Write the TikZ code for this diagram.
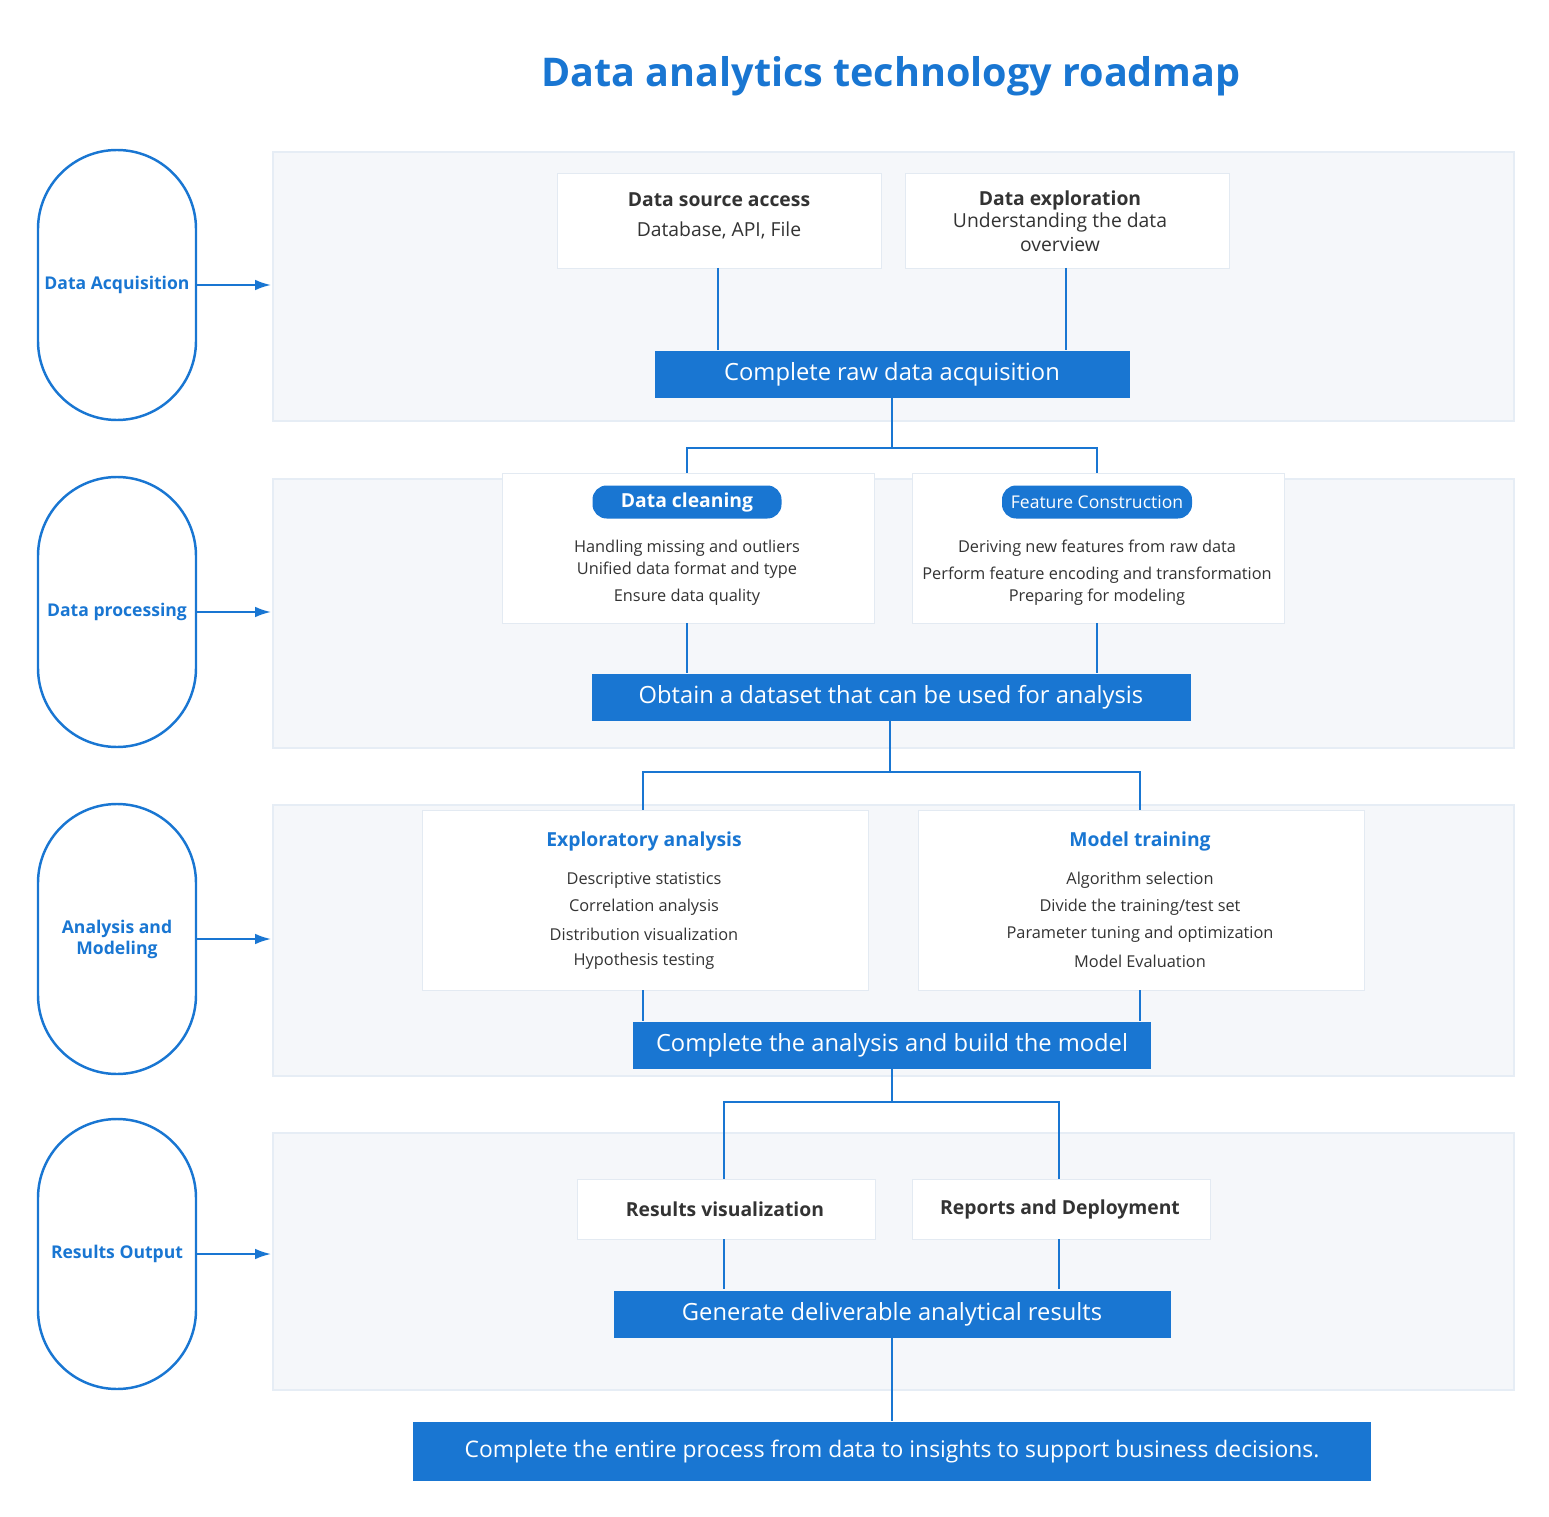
\documentclass[tikz,border=0pt]{standalone}
\usepackage{fontspec}
\setmainfont{Open Sans}
\usetikzlibrary{arrows.meta,positioning}
\definecolor{mainblue}{HTML}{1976D2}
\definecolor{lanefill}{HTML}{F5F7FA}
\definecolor{laneline}{HTML}{E6EDF5}
\definecolor{boxline}{HTML}{E3EAF2}
\definecolor{txt}{HTML}{333333}
\tikzset{
  lane/.style={fill=lanefill, draw=laneline, line width=0.6pt},
  stage/.style={draw=mainblue, line width=1.4pt, rounded corners=0.79*2cm, text=mainblue, font=\fontsize{10}{12}\selectfont\bfseries, align=center},
  card/.style={fill=white, draw=boxline, line width=0.6pt, text=txt, align=center, anchor=north west},
  bar/.style={fill=mainblue, text=white, font=\fontsize{13.5}{16}\selectfont},
  tag/.style={fill=mainblue, text=white, rounded corners=8pt, inner sep=0pt},
  link/.style={draw=mainblue, line width=1.1pt},
  feed/.style={draw=mainblue, line width=1.1pt, -{Latex[length=9pt,width=6pt]}},
  small/.style={font=\fontsize{9.3}{11}\selectfont, text=txt},
  head/.style={font=\fontsize{11}{13}\selectfont\bfseries, text=txt}
}
\begin{document}
\begin{tikzpicture}[x=0.02cm,y=-0.02cm]
\useasboundingbox (0,0) rectangle (1549,1517);

%Title
\node (title) at (891,76) [text=mainblue, font=\fontsize{22.5}{26}\selectfont\bfseries]{Data analytics technology roadmap};

%Lanes
\draw[lane] (273,152) rectangle (1514,421);
\draw[lane] (273,479) rectangle (1514,748);
\draw[lane] (273,805) rectangle (1514,1076);
\draw[lane] (273,1133) rectangle (1514,1390);

%Stages
\node (acq) at (117,285) [stage, minimum width=158*0.02cm, minimum height=270*0.02cm]{Data Acquisition};
\node (proc) at (117,612) [stage, minimum width=158*0.02cm, minimum height=270*0.02cm]{Data processing};
\node (anal) at (117,939) [stage, minimum width=158*0.02cm, minimum height=270*0.02cm]{Analysis and\\Modeling};
\node (outp) at (117,1254) [stage, minimum width=158*0.02cm, minimum height=270*0.02cm]{Results Output};
\coordinate (acqT) at (271,285);
\coordinate (procT) at (271,612);
\coordinate (analT) at (271,939);
\coordinate (outpT) at (271,1254);
\draw[feed] (acq.east) -- (acqT);
\draw[feed] (proc.east) -- (procT);
\draw[feed] (anal.east) -- (analT);
\draw[feed] (outp.east) -- (outpT);

%Lane 1
\node (source) at (557,173) [card, minimum width=324*0.02cm, minimum height=95*0.02cm]{};
\node at (719,200) [head]{Data source access};
\node at (719,230) [font=\fontsize{11}{13}\selectfont, text=txt]{Database, API, File};
\node (explore) at (905,173) [card, minimum width=324*0.02cm, minimum height=95*0.02cm]{};
\node at (1060,200) [head]{Data exploration};
\node at (1060,232) [font=\fontsize{11}{13.5}\selectfont, text=txt, align=center]{Understanding the data\\overview};
\node (raw) at (892,374) [bar, minimum width=475*0.02cm, minimum height=47*0.02cm]{Complete raw data acquisition};
\draw[link] (718,268) -- ++(0,82);
\draw[link] (1066,268) -- ++(0,82);

%Lane 2
\node (clean) at (502,473) [card, minimum width=372*0.02cm, minimum height=150*0.02cm]{};
\node (cleantag) at (687,502) [tag, minimum width=189*0.02cm, minimum height=33*0.02cm, font=\fontsize{11}{13}\selectfont\bfseries]{Data cleaning};
\node at (687,548) [small]{Handling missing and outliers};
\node at (687,570) [small]{Unified data format and type};
\node at (687,597) [small]{Ensure data quality};
\node (feat) at (912,473) [card, minimum width=372*0.02cm, minimum height=150*0.02cm]{};
\node (feattag) at (1097,502) [tag, minimum width=190*0.02cm, minimum height=33*0.02cm, font=\fontsize{10}{12}\selectfont]{Feature Construction};
\node at (1097,548) [small]{Deriving new features from raw data};
\node at (1097,575) [small]{Perform feature encoding and transformation};
\node at (1097,597) [small]{Preparing for modeling};
\node (dataset) at (891,697) [bar, minimum width=599*0.02cm, minimum height=47*0.02cm]{Obtain a dataset that can be used for analysis};
\draw[link] (raw.south) -- ++(0,50) -| (687,473);
\draw[link] (raw.south) -- ++(0,50) -| (1097,473);
\draw[link] (687,623) -- ++(0,50);
\draw[link] (1097,623) -- ++(0,50);

%Lane 3
\node (explo) at (422,810) [card, minimum width=446*0.02cm, minimum height=180*0.02cm]{};
\node at (644,841) [text=mainblue, font=\fontsize{11}{13}\selectfont\bfseries]{Exploratory analysis};
\node at (644,880) [small]{Descriptive statistics};
\node at (644,907) [small]{Correlation analysis};
\node at (644,934) [small]{Distribution visualization};
\node at (644,961) [small]{Hypothesis testing};
\node (model) at (918,810) [card, minimum width=446*0.02cm, minimum height=180*0.02cm]{};
\node at (1140,841) [text=mainblue, font=\fontsize{11}{13}\selectfont\bfseries]{Model training};
\node at (1140,880) [small]{Algorithm selection};
\node at (1140,907) [small]{Divide the training/test set};
\node at (1140,934) [small]{Parameter tuning and optimization};
\node at (1140,961) [small]{Model Evaluation};
\node (build) at (892,1045) [bar, minimum width=518*0.02cm, minimum height=47*0.02cm]{Complete the analysis and build the model};
\draw[link] (890,720) -- (890,772) -| (643,810);
\draw[link] (890,772) -| (1140,810);
\draw[link] (643,990) -- ++(0,31);
\draw[link] (1140,990) -- ++(0,31);

%Lane 4
\node (visual) at (577,1179) [card, minimum width=298*0.02cm, minimum height=60*0.02cm]{};
\node at (725,1209) [head]{Results visualization};
\node (deploy) at (912,1179) [card, minimum width=298*0.02cm, minimum height=60*0.02cm]{};
\node at (1060,1209) [head]{Reports and Deployment};
\node (deliver) at (892,1314) [bar, minimum width=557*0.02cm, minimum height=47*0.02cm]{Generate deliverable analytical results};
\draw[link] (build.south) -- ++(0,33) -| (724,1179);
\draw[link] (build.south) -- ++(0,33) -| (1059,1179);
\draw[link] (724,1239) -- ++(0,50);
\draw[link] (1059,1239) -- ++(0,50);

%Final
\node (insight) at (892,1451) [bar, minimum width=958*0.02cm, minimum height=59*0.02cm, font=\fontsize{13}{15}\selectfont]{Complete the entire process from data to insights to support business decisions.};
\draw[link] (deliver.south) -- (insight.north);

\end{tikzpicture}
\end{document}
